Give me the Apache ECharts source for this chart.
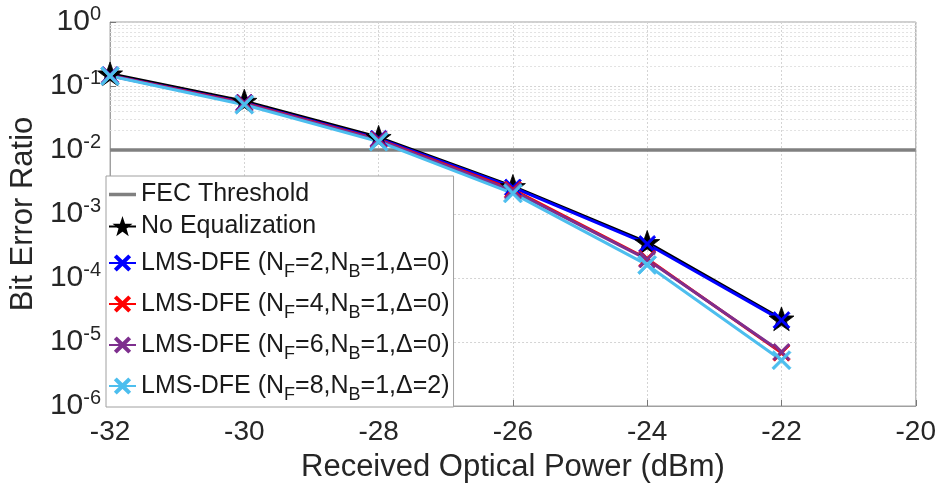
<!DOCTYPE html>
<html>
<head>
<meta charset="utf-8">
<script src="https://cdn.jsdelivr.net/npm/echarts@6/dist/echarts.min.js"></script>
<style>html,body{margin:0;padding:0;background:#fff}#c{width:939px;height:491px}</style>
</head>
<body>
<div id="c"></div>
<script>
// ---- data ----
var xValues = [-32, -30, -28, -26, -24, -22];
var fecThreshold = 0.01;
var fecX = [-32, -20];
var noEqualization = [0.155, 0.058, 0.0158, 0.0027, 3.6e-4, 2.3e-5];
var lmsNF2 = [0.148, 0.055, 0.0150, 0.0026, 3.4e-4, 2.2e-5];
var lmsNF4 = [0.146, 0.054, 0.0145, 0.0024, 2.0e-4, 6.8e-6];
var lmsNF6 = [0.145, 0.053, 0.0142, 0.0023, 1.95e-4, 7.0e-6];
var lmsNF8 = [0.143, 0.051, 0.0135, 0.0021, 1.6e-4, 5.2e-6];
var xTicks = [-32, -30, -28, -26, -24, -22, -20];
var yDecades = [-6, -5, -4, -3, -2, -1, 0];

var seriesNames = ['FEC Threshold', 'No Equalization', 'NF2', 'NF4', 'NF6', 'NF8'];
var legendLabels = {
  'FEC Threshold': 'FEC Threshold',
  'No Equalization': 'No Equalization',
  'NF2': 'LMS-DFE (N{s|F}=2,N{s|B}=1,\u0394=0)',
  'NF4': 'LMS-DFE (N{s|F}=4,N{s|B}=1,\u0394=0)',
  'NF6': 'LMS-DFE (N{s|F}=6,N{s|B}=1,\u0394=0)',
  'NF8': 'LMS-DFE (N{s|F}=8,N{s|B}=1,\u0394=2)'
};

function pairs(xs, ys) { return xs.map(function (x, i) { return [x, ys[i]]; }); }

// minor log grid positions
var minorLines = [];
for (var d = yDecades[0]; d < yDecades[yDecades.length - 1]; d++) {
  for (var m = 2; m <= 9; m++) minorLines.push({ yAxis: m * Math.pow(10, d) });
}

var FONT = 'Liberation Sans, Arial, sans-serif';
var starPath = 'path://M0,-10 L2.35,-3.24 L9.51,-3.09 L3.8,1.24 L5.88,8.09 L0,4 L-5.88,8.09 L-3.8,1.24 L-9.51,-3.09 L-2.35,-3.24 Z';
var xPath = 'path://M-10,-8 L-8,-10 L0,-2 L8,-10 L10,-8 L2,0 L10,8 L8,10 L0,2 L-8,10 L-10,8 L-2,0 Z';
var barPath = 'path://M0,0 L10,0 L10,1.3 L0,1.3 Z';

function lineSeries(name, ys, color, symbol, size) {
  return {
    name: name, type: 'line', data: pairs(xValues, ys),
    symbol: symbol, symbolSize: size, symbolKeepAspect: true,
    showAllSymbol: true,
    lineStyle: { color: color, width: 3 },
    itemStyle: { color: color, borderColor: color, borderWidth: 0.8 },
    emphasis: { disabled: true },
    animation: false, z: 3
  };
}

var legendData = seriesNames.map(function (n) {
  return n === 'FEC Threshold' ? { name: n, icon: barPath, itemStyle: { color: '#808080' } } : { name: n };
});

var chart = echarts.init(document.getElementById('c'), null, { renderer: 'canvas' });
chart.setOption({
  animation: false,
  backgroundColor: '#fff',
  textStyle: { fontFamily: FONT },
  grid: { left: 106, right: 21, top: 22, bottom: 85, show: true, borderColor: '#a0a0a0', borderWidth: 1 },
  legend: {
    data: legendData,
    orient: 'vertical',
    left: 106, top: 176,
    backgroundColor: '#fff',
    borderColor: '#a0a0a0', borderWidth: 1,
    padding: [5, 4, 3, 2],
    itemWidth: 27, itemHeight: 18, itemGap: 5,
    formatter: function (n) { return legendLabels[n]; },
    textStyle: {
      fontFamily: FONT, fontSize: 25, color: '#1a1a1a', lineHeight: 27,
      rich: { s: { fontFamily: FONT, fontSize: 18, color: '#1a1a1a', padding: [18, 0, 0, 0], lineHeight: 36 } }
    },
    z: 10
  },
  xAxis: {
    type: 'value', min: -32, max: -20, interval: 2,
    name: 'Received Optical Power (dBm)', nameLocation: 'middle', nameGap: 46,
    nameTextStyle: { fontFamily: FONT, fontSize: 31, color: '#262626' },
    axisLine: { show: true, lineStyle: { color: '#a0a0a0', width: 1 } },
    axisTick: { show: true, inside: true, length: 6, lineStyle: { color: '#777' } },
    axisLabel: { fontFamily: FONT, fontSize: 28, color: '#262626', margin: 12,
      formatter: function (v) { return xTicks.indexOf(v) >= 0 ? String(v) : ''; } },
    splitLine: { show: true, lineStyle: { color: '#d4d4d4', type: [2, 2], width: 1 } }
  },
  yAxis: {
    type: 'log', logBase: 10, min: Math.pow(10, yDecades[0]), max: Math.pow(10, yDecades[yDecades.length - 1]),
    name: 'Bit Error Ratio', nameLocation: 'middle', nameGap: 66, nameRotate: 90,
    nameTextStyle: { fontFamily: FONT, fontSize: 31, color: '#262626' },
    axisLine: { show: true, lineStyle: { color: '#a0a0a0', width: 1 } },
    axisTick: { show: true, inside: true, length: 6, lineStyle: { color: '#777' } },
    axisLabel: {
      margin: 9,
      formatter: function (v) { var e = Math.round(Math.log10(v)); return '{b|10}{sup|' + e + '}'; },
      rich: {
        b: { fontFamily: FONT, fontSize: 30, color: '#262626' },
        sup: { fontFamily: FONT, fontSize: 20, color: '#262626', padding: [0, 0, 16, 0] }
      }
    },
    splitLine: { show: true, lineStyle: { color: '#d4d4d4', type: [2, 2], width: 1 } }
  },
  series: [
    {
      name: 'FEC Threshold', type: 'line', data: pairs(fecX, [fecThreshold, fecThreshold]),
      symbol: 'none',
      lineStyle: { color: '#808080', width: 3.5 }, itemStyle: { color: '#808080' },
      emphasis: { disabled: true }, z: 2,
      markLine: {
        silent: true, symbol: 'none', label: { show: false },
        lineStyle: { color: '#e2e2e2', type: [2, 2], width: 1 },
        data: minorLines, animation: false, z: 1
      }
    },
    lineSeries('No Equalization', noEqualization, '#000000', starPath, 25),
    lineSeries('NF2', lmsNF2, '#0000ff', xPath, 17),
    lineSeries('NF4', lmsNF4, '#ff0000', xPath, 17),
    lineSeries('NF6', lmsNF6, '#7e2f8e', xPath, 17),
    lineSeries('NF8', lmsNF8, '#4dbeee', xPath, 19)
  ]
});
</script>
</body>
</html>
